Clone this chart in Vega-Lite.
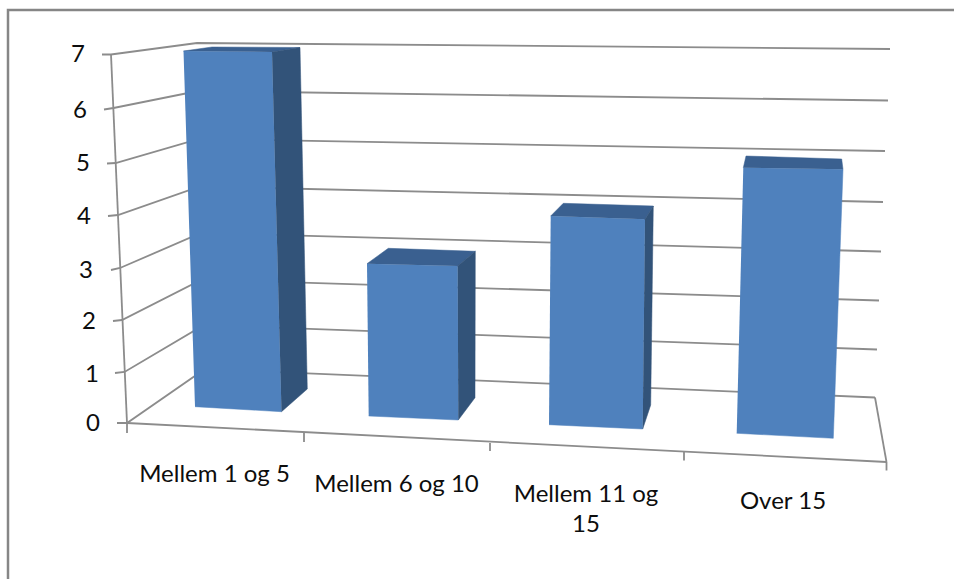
{
  "$schema": "https://vega.github.io/schema/vega-lite/v6.json",
  "width": 954,
  "height": 579,
  "padding": 0,
  "autosize": {"type": "none"},
  "background": "white",
  "config": {"view": {"stroke": null}},
  "datasets": {
    "frame": [
      {"id": "border", "seq": 0, "across": -0.595, "up": -3.12},
      {"id": "border", "seq": 1, "across": -0.595, "up": 8.26},
      {"id": "border", "seq": 2, "across": 4.135, "up": 8.26}
    ],
    "grid": [
      {"id": "g7", "seq": 0, "across": -0.125, "up": 7.37},
      {"id": "g7", "seq": 1, "across": -0.08, "up": 7.37},
      {"id": "g7", "seq": 2, "across": 0.35, "up": 7.6},
      {"id": "g7", "seq": 3, "across": 3.815, "up": 7.48},
      {"id": "g6", "seq": 0, "across": -0.115, "up": 6.27},
      {"id": "g6", "seq": 1, "across": -0.0675, "up": 6.3},
      {"id": "g6", "seq": 2, "across": 0.355, "up": 6.64},
      {"id": "g6", "seq": 3, "across": 3.805, "up": 6.45},
      {"id": "g5", "seq": 0, "across": -0.1, "up": 5.19},
      {"id": "g5", "seq": 1, "across": -0.057, "up": 5.2},
      {"id": "g5", "seq": 2, "across": 0.36, "up": 5.68},
      {"id": "g5", "seq": 3, "across": 3.79, "up": 5.44},
      {"id": "g4", "seq": 0, "across": -0.095, "up": 4.14},
      {"id": "g4", "seq": 1, "across": -0.045, "up": 4.16},
      {"id": "g4", "seq": 2, "across": 0.365, "up": 4.73},
      {"id": "g4", "seq": 3, "across": 3.78, "up": 4.42},
      {"id": "g3", "seq": 0, "across": -0.08, "up": 3.06},
      {"id": "g3", "seq": 1, "across": -0.035, "up": 3.1},
      {"id": "g3", "seq": 2, "across": 0.37, "up": 3.8},
      {"id": "g3", "seq": 3, "across": 3.77, "up": 3.43},
      {"id": "g2", "seq": 0, "across": -0.07, "up": 2.04},
      {"id": "g2", "seq": 1, "across": -0.025, "up": 2.06},
      {"id": "g2", "seq": 2, "across": 0.375, "up": 2.87},
      {"id": "g2", "seq": 3, "across": 3.76, "up": 2.45},
      {"id": "g1", "seq": 0, "across": -0.06, "up": 1.0},
      {"id": "g1", "seq": 1, "across": -0.0125, "up": 1.02},
      {"id": "g1", "seq": 2, "across": 0.385, "up": 1.96},
      {"id": "g1", "seq": 3, "across": 3.75, "up": 1.47},
      {"id": "g0", "seq": 0, "across": -0.05, "up": 0},
      {"id": "g0", "seq": 1, "across": 0, "up": 0},
      {"id": "g0", "seq": 2, "across": 0.39, "up": 1.08},
      {"id": "g0", "seq": 3, "across": 3.74, "up": 0.51},
      {"id": "wall", "seq": 0, "across": -0.08, "up": 7.37},
      {"id": "wall", "seq": 1, "across": 0, "up": 0},
      {"id": "floor", "seq": 0, "across": 0, "up": 0},
      {"id": "floor", "seq": 1, "across": 3.7975, "up": -0.78},
      {"id": "edge", "seq": 0, "across": 3.74, "up": 0.51},
      {"id": "edge", "seq": 1, "across": 3.7975, "up": -0.78},
      {"id": "t0", "seq": 0, "across": 0, "up": 0},
      {"id": "t0", "seq": 1, "across": 0, "up": -0.2},
      {"id": "t1", "seq": 0, "across": 0.885, "up": -0.2},
      {"id": "t1", "seq": 1, "across": 0.885, "up": -0.38},
      {"id": "t2", "seq": 0, "across": 1.815, "up": -0.4},
      {"id": "t2", "seq": 1, "across": 1.815, "up": -0.56},
      {"id": "t3", "seq": 0, "across": 2.785, "up": -0.58},
      {"id": "t3", "seq": 1, "across": 2.785, "up": -0.75},
      {"id": "t4", "seq": 0, "across": 3.7975, "up": -0.78},
      {"id": "t4", "seq": 1, "across": 3.7975, "up": -0.95}
    ],
    "faces": [
      {"category": "Mellem 1 og 5", "value": 7, "face": "front", "seq": 0, "across": 0.2825, "up": 7.44},
      {"category": "Mellem 1 og 5", "value": 7, "face": "front", "seq": 1, "across": 0.725, "up": 7.42},
      {"category": "Mellem 1 og 5", "value": 7, "face": "front", "seq": 2, "across": 0.7725, "up": 0.226},
      {"category": "Mellem 1 og 5", "value": 7, "face": "front", "seq": 3, "across": 0.34, "up": 0.326},
      {"category": "Mellem 1 og 5", "value": 7, "face": "top", "seq": 0, "across": 0.2825, "up": 7.44},
      {"category": "Mellem 1 og 5", "value": 7, "face": "top", "seq": 1, "across": 0.425, "up": 7.52},
      {"category": "Mellem 1 og 5", "value": 7, "face": "top", "seq": 2, "across": 0.865, "up": 7.51},
      {"category": "Mellem 1 og 5", "value": 7, "face": "top", "seq": 3, "across": 0.725, "up": 7.42},
      {"category": "Mellem 1 og 5", "value": 7, "face": "side", "seq": 0, "across": 0.725, "up": 7.42},
      {"category": "Mellem 1 og 5", "value": 7, "face": "side", "seq": 1, "across": 0.865, "up": 7.51},
      {"category": "Mellem 1 og 5", "value": 7, "face": "side", "seq": 2, "across": 0.9015, "up": 0.68},
      {"category": "Mellem 1 og 5", "value": 7, "face": "side", "seq": 3, "across": 0.7725, "up": 0.226},
      {"category": "Mellem 6 og 10", "value": 3, "face": "front", "seq": 0, "across": 1.2, "up": 3.186},
      {"category": "Mellem 6 og 10", "value": 3, "face": "front", "seq": 1, "across": 1.6535, "up": 3.14},
      {"category": "Mellem 6 og 10", "value": 3, "face": "front", "seq": 2, "across": 1.6565, "up": 0.06},
      {"category": "Mellem 6 og 10", "value": 3, "face": "front", "seq": 3, "across": 1.2085, "up": 0.14},
      {"category": "Mellem 6 og 10", "value": 3, "face": "top", "seq": 0, "across": 1.2, "up": 3.186},
      {"category": "Mellem 6 og 10", "value": 3, "face": "top", "seq": 1, "across": 1.3065, "up": 3.494},
      {"category": "Mellem 6 og 10", "value": 3, "face": "top", "seq": 2, "across": 1.7415, "up": 3.434},
      {"category": "Mellem 6 og 10", "value": 3, "face": "top", "seq": 3, "across": 1.6535, "up": 3.14},
      {"category": "Mellem 6 og 10", "value": 3, "face": "side", "seq": 0, "across": 1.6535, "up": 3.14},
      {"category": "Mellem 6 og 10", "value": 3, "face": "side", "seq": 1, "across": 1.7415, "up": 3.434},
      {"category": "Mellem 6 og 10", "value": 3, "face": "side", "seq": 2, "across": 1.74, "up": 0.506},
      {"category": "Mellem 6 og 10", "value": 3, "face": "side", "seq": 3, "across": 1.6565, "up": 0.06},
      {"category": "Mellem 11 og 15", "value": 4, "face": "front", "seq": 0, "across": 2.1185, "up": 4.14},
      {"category": "Mellem 11 og 15", "value": 4, "face": "front", "seq": 1, "across": 2.59, "up": 4.074},
      {"category": "Mellem 11 og 15", "value": 4, "face": "front", "seq": 2, "across": 2.5785, "up": -0.12},
      {"category": "Mellem 11 og 15", "value": 4, "face": "front", "seq": 3, "across": 2.11, "up": -0.034},
      {"category": "Mellem 11 og 15", "value": 4, "face": "top", "seq": 0, "across": 2.1185, "up": 4.14},
      {"category": "Mellem 11 og 15", "value": 4, "face": "top", "seq": 1, "across": 2.1815, "up": 4.394},
      {"category": "Mellem 11 og 15", "value": 4, "face": "top", "seq": 2, "across": 2.6315, "up": 4.34},
      {"category": "Mellem 11 og 15", "value": 4, "face": "top", "seq": 3, "across": 2.59, "up": 4.074},
      {"category": "Mellem 11 og 15", "value": 4, "face": "side", "seq": 0, "across": 2.59, "up": 4.074},
      {"category": "Mellem 11 og 15", "value": 4, "face": "side", "seq": 1, "across": 2.6315, "up": 4.34},
      {"category": "Mellem 11 og 15", "value": 4, "face": "side", "seq": 2, "across": 2.6185, "up": 0.36},
      {"category": "Mellem 11 og 15", "value": 4, "face": "side", "seq": 3, "across": 2.5785, "up": -0.12},
      {"category": "Over 15", "value": 5, "face": "front", "seq": 0, "across": 3.0815, "up": 5.106},
      {"category": "Over 15", "value": 5, "face": "front", "seq": 1, "across": 3.58, "up": 5.074},
      {"category": "Over 15", "value": 5, "face": "front", "seq": 2, "across": 3.5315, "up": -0.306},
      {"category": "Over 15", "value": 5, "face": "front", "seq": 3, "across": 3.0485, "up": -0.206},
      {"category": "Over 15", "value": 5, "face": "top", "seq": 0, "across": 3.0815, "up": 5.106},
      {"category": "Over 15", "value": 5, "face": "top", "seq": 1, "across": 3.095, "up": 5.34},
      {"category": "Over 15", "value": 5, "face": "top", "seq": 2, "across": 3.5735, "up": 5.28},
      {"category": "Over 15", "value": 5, "face": "top", "seq": 3, "across": 3.58, "up": 5.074}
    ],
    "labels": [
      {"text": "7", "across": -0.245, "up": 7.36},
      {"text": "6", "across": -0.235, "up": 6.24},
      {"text": "5", "across": -0.22, "up": 5.18},
      {"text": "4", "across": -0.215, "up": 4.12},
      {"text": "3", "across": -0.205, "up": 3.04},
      {"text": "2", "across": -0.19, "up": 2.02},
      {"text": "1", "across": -0.175, "up": 0.96},
      {"text": "0", "across": -0.17, "up": -0.02},
      {"text": "Mellem 1 og 5", "across": 0.4375, "up": -1.04},
      {"text": "Mellem 6 og 10", "across": 1.3475, "up": -1.24},
      {"text": "Mellem 11 og", "across": 2.295, "up": -1.44},
      {"text": "15", "across": 2.295, "up": -2.04},
      {"text": "Over 15", "across": 3.28, "up": -1.58}
    ]
  },
  "encoding": {
    "x": {"field": "across", "type": "quantitative", "axis": null, "scale": {"domain": [-0.635, 4.135], "nice": false, "zero": false}},
    "y": {"field": "up", "type": "quantitative", "axis": null, "scale": {"domain": [-3.12, 8.46], "nice": false, "zero": false}}
  },
  "layer": [
    {
      "data": {"name": "frame"},
      "mark": {"type": "line", "stroke": "#868686", "strokeWidth": 2.5, "clip": false},
      "encoding": {"detail": {"field": "id"}, "order": {"field": "seq"}}
    },
    {
      "data": {"name": "grid"},
      "mark": {"type": "line", "stroke": "#8c8c8c", "strokeWidth": 1.8},
      "encoding": {"detail": {"field": "id"}, "order": {"field": "seq"}}
    },
    {
      "data": {"name": "faces"},
      "mark": {"type": "line", "strokeWidth": 0.5},
      "encoding": {
        "detail": {"field": "category"},
        "order": {"field": "seq"},
        "fill": {"field": "face", "type": "nominal", "legend": null, "scale": {"domain": ["front", "top", "side"], "range": ["#4f81bd", "#3a6090", "#325379"]}},
        "stroke": {"field": "face", "type": "nominal", "legend": null, "scale": {"domain": ["front", "top", "side"], "range": ["#4f81bd", "#3a6090", "#325379"]}}
      }
    },
    {
      "data": {"name": "labels"},
      "mark": {"type": "text", "font": "Lato", "fontSize": 24, "color": "#0d0d0d", "align": "center", "baseline": "middle"},
      "encoding": {"text": {"field": "text"}}
    }
  ]
}
